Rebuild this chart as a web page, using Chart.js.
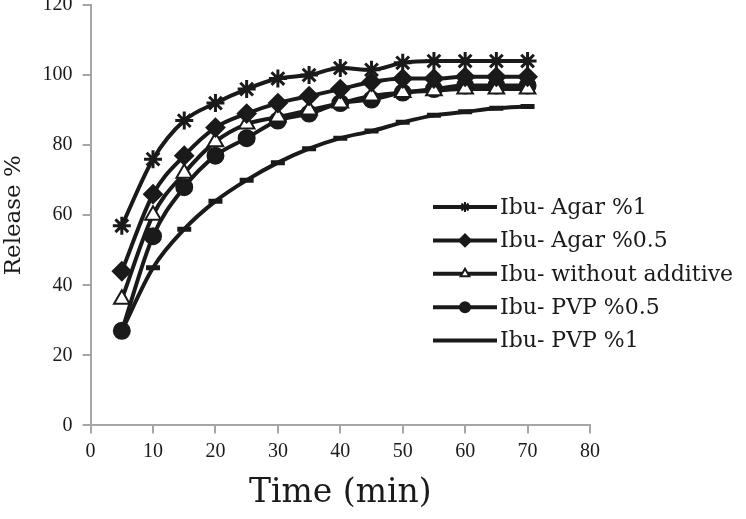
<!DOCTYPE html>
<html>
<head>
<meta charset="utf-8">
<script src="https://cdn.jsdelivr.net/npm/chart.js@4.4.0/dist/chart.umd.min.js"></script>
<style>
    html, body { margin: 0; padding: 0; background: #fff; }
    #wrap { width: 746px; height: 519px; position: relative; }
</style>
</head>
<body>
<div id="wrap"><canvas id="releaseChart"></canvas></div>
<script>
// Sampling times (min)
const times = [5, 10, 15, 20, 25, 30, 35, 40, 45, 50, 55, 60, 65, 70];

// Release % for each formulation
const agar1 = [57, 76, 87, 92, 96, 99, 100, 102, 101.5, 103.5, 104, 104, 104, 104];
const agar05 = [44, 66, 77, 85, 89, 92, 94, 96, 98, 99, 99, 99.5, 99.5, 99.5];
const noAdditive = [36, 60, 72, 81, 86, 88, 90, 92, 94, 95, 95.5, 96, 96, 96];
const pvp05 = [27, 54, 68, 77, 82, 87, 89, 92, 93, 95, 96, 97, 97, 97];
const pvp1 = [27, 45, 56, 64, 70, 75, 79, 82, 84, 86.5, 88.5, 89.5, 90.5, 91];

const seriesLabels = ['Ibu- Agar %1', 'Ibu- Agar %0.5', 'Ibu- without additive', 'Ibu- PVP %0.5', 'Ibu- PVP %1'];

const ink = '#1a1a1a';
const axisGray = '#a6a6a6';
const serif = "'DejaVu Serif', 'Liberation Serif', serif";
const tickFont = "'Liberation Serif', 'DejaVu Serif', serif";

function toPoints(values) {
    return values.map((v, i) => ({ x: times[i], y: v }));
}

function makeSeries(label, values, style, radius, fill) {
    return {
        label: label,
        data: toPoints(values),
        borderColor: ink,
        borderWidth: 4,
        backgroundColor: fill,
        pointStyle: style,
        pointRadius: radius,
        pointBorderWidth: style === 'line' ? 5 : (style === 'star' ? 3 : 2),
        pointBorderColor: ink,
        pointBackgroundColor: fill,
        cubicInterpolationMode: 'monotone',
        fill: false
    };
}

// draws the legend inside the plot, like the original figure
const insideLegend = {
    id: 'insideLegend',
    afterDraw(chart) {
        const ctx = chart.ctx;
        const x0 = 433, x1 = 497, top = 207, gap = 33.4;
        ctx.save();
        chart.data.datasets.forEach((ds, i) => {
            const y = top + i * gap;
            ctx.strokeStyle = ink;
            ctx.lineWidth = 4;
            ctx.beginPath();
            ctx.moveTo(x0, y);
            ctx.lineTo(x1, y);
            ctx.stroke();
            ctx.fillStyle = ds.pointBackgroundColor;
            ctx.strokeStyle = ink;
            ctx.lineWidth = 2;
            if (ds.pointStyle !== 'line') {
                Chart.helpers.drawPoint(ctx, {
                    pointStyle: ds.pointStyle,
                    radius: ds.pointStyle === 'rectRot' ? 6 : 5,
                    rotation: 0,
                    borderWidth: 2
                }, (x0 + x1) / 2, y);
            }
            ctx.fillStyle = ink;
            ctx.font = "22px " + serif;
            ctx.textBaseline = 'middle';
            ctx.fillText(ds.label, x1 + 3, y + 1);
        });
        ctx.restore();
    }
};

const ctx = document.getElementById('releaseChart').getContext('2d');
new Chart(ctx, {
    type: 'line',
    data: {
        datasets: [
            makeSeries(seriesLabels[0], agar1, 'star', 9, ink),
            makeSeries(seriesLabels[1], agar05, 'rectRot', 9, ink),
            makeSeries(seriesLabels[2], noAdditive, 'triangle', 9, '#ffffff'),
            makeSeries(seriesLabels[3], pvp05, 'circle', 8, ink),
            makeSeries(seriesLabels[4], pvp1, 'line', 7, ink)
        ]
    },
    options: {
        responsive: true,
        maintainAspectRatio: false,
        animation: false,
        layout: {
            autoPadding: false,
            padding: { top: 5, right: 156, bottom: 6, left: 0 }
        },
        plugins: {
            legend: { display: false },
            tooltip: { enabled: false }
        },
        scales: {
            x: {
                type: 'linear',
                min: 0,
                max: 80,
                ticks: {
                    stepSize: 10,
                    color: ink,
                    font: { family: tickFont, size: 20 },
                    padding: 6
                },
                grid: {
                    drawOnChartArea: false,
                    drawTicks: true,
                    tickLength: 8,
                    color: axisGray,
                    lineWidth: 2
                },
                border: { color: axisGray, width: 2 },
                title: {
                    display: true,
                    text: 'Time (min)',
                    color: ink,
                    font: { family: serif, size: 33 },
                    padding: { top: 4, bottom: 0 }
                }
            },
            y: {
                min: 0,
                max: 120,
                // let the top label run to the edge, as in the original
                afterFit(scale) {
                    scale.paddingTop = 0;
                },
                ticks: {
                    stepSize: 20,
                    color: ink,
                    font: { family: tickFont, size: 20 },
                    padding: 10
                },
                grid: {
                    drawOnChartArea: false,
                    drawTicks: true,
                    tickLength: 8,
                    color: axisGray,
                    lineWidth: 2
                },
                border: { color: axisGray, width: 2 },
                title: {
                    display: true,
                    text: 'Release %',
                    color: ink,
                    font: { family: serif, size: 23 },
                    padding: { top: 0, bottom: 5 }
                }
            }
        }
    },
    plugins: [insideLegend]
});
</script>
</body>
</html>
